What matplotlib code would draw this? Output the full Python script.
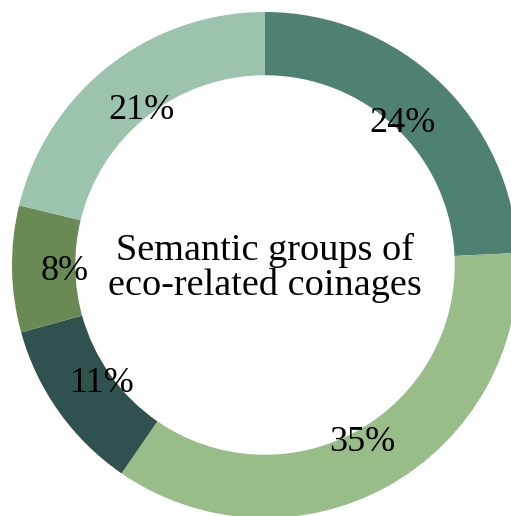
import matplotlib.pyplot as plt
import numpy as np

shares = [24, 35, 11, 8, 21]
labels = ["24%", "35%", "11%", "8%", "21%"]
colors = ["#4e8074", "#98bd89", "#2f524e", "#6a8a53", "#9cc3ad"]
center_title = "Semantic groups of\neco-related coinages"

plt.rcParams['font.family'] = ['Liberation Serif', 'DejaVu Serif']

fig = plt.figure(figsize=(5.11, 5.16), dpi=100)
# ring centre at (265, 265) px from top-left, outer radius 253 px
ax = fig.add_axes([12 / 511, (516 - 265 - 253) / 516, 506 / 511, 506 / 516])

wedges, _ = ax.pie(shares, colors=colors, startangle=90, counterclock=False,
                   radius=1.0, wedgeprops=dict(width=0.25, linewidth=0))

total = sum(shares)
start = 90.0
for val, lab in zip(shares, labels):
    mid = np.deg2rad(start - val / total * 180)
    start -= val / total * 360
    ax.text(0.79 * np.cos(mid), 0.79 * np.sin(mid) - 0.012, lab, ha='center',
            va='center', fontsize=26)

ax.text(0, -0.01, center_title, ha='center', va='center', fontsize=27.5,
        linespacing=1.0)
ax.set_xlim(-1, 1)
ax.set_ylim(-1, 1)
ax.set_aspect('equal')
ax.axis('off')

fig.savefig("out.png", dpi=100)
